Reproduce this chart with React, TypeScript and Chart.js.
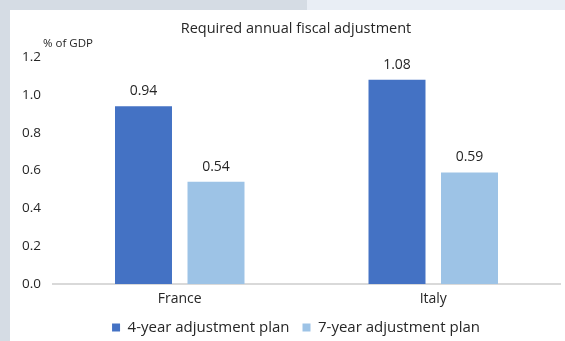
import React, { useEffect, useRef } from "react";
import { Chart, registerables } from "chart.js";

Chart.register(...registerables);

const categories = ["France", "Italy"];
const fourYearPlan = [0.94, 1.08];
const sevenYearPlan = [0.54, 0.59];
const seriesNames = ["4-year adjustment plan", "7-year adjustment plan"];
const yTicks = [0.0, 0.2, 0.4, 0.6, 0.8, 1.0, 1.2];
const titleText = "Required annual fiscal adjustment";
const unitText = "% of GDP";

const FONT = "'Open Sans', sans-serif";
const TEXT = "#262626";

const valueLabels = {
  id: "valueLabels",
  afterDatasetsDraw(chart: any) {
    const ctx = chart.ctx;
    ctx.save();
    ctx.font = `14px ${FONT}`;
    ctx.fillStyle = TEXT;
    ctx.textAlign = "center";
    ctx.textBaseline = "middle";
    chart.data.datasets.forEach((ds: any, i: number) => {
      const meta = chart.getDatasetMeta(i);
      meta.data.forEach((el: any, j: number) => {
        ctx.fillText(Number(ds.data[j]).toFixed(2), el.x, el.y - 15);
      });
    });
    ctx.restore();
  },
};

const unitLabel = {
  id: "unitLabel",
  afterDraw(chart: any) {
    const ctx = chart.ctx;
    const a = chart.chartArea;
    ctx.save();
    ctx.font = `11.5px ${FONT}`;
    ctx.fillStyle = TEXT;
    ctx.textAlign = "left";
    ctx.textBaseline = "middle";
    ctx.fillText(unitText, a.left - 10, a.top - 13);
    ctx.restore();
  },
};

export default function App() {
  const ref = useRef<HTMLCanvasElement | null>(null);
  useEffect(() => {
    if (!ref.current) return;
    const chart = new Chart(ref.current, {
      type: "bar",
      data: {
        labels: categories,
        datasets: [
          {
            label: seriesNames[0],
            data: fourYearPlan,
            backgroundColor: "#4472C4",
            categoryPercentage: 0.572,
            barPercentage: 0.786,
          },
          {
            label: seriesNames[1],
            data: sevenYearPlan,
            backgroundColor: "#9DC3E6",
            categoryPercentage: 0.572,
            barPercentage: 0.786,
          },
        ],
      },
      options: {
        responsive: false,
        animation: false,
        devicePixelRatio: 1,
        layout: { padding: 0 },
        plugins: {
          title: {
            display: true,
            text: titleText,
            color: TEXT,
            font: { family: FONT, size: 14.5, weight: "normal" },
            padding: { top: 10.3, bottom: 19.3 },
          },
          legend: {
            position: "bottom",
            labels: {
              boxWidth: 8,
              boxHeight: 8,
              padding: 13,
              color: TEXT,
              font: { family: FONT, size: 15 },
            },
          },
          tooltip: { enabled: false },
        },
        scales: {
          x: {
            grid: { display: false, drawTicks: false },
            border: { display: true, color: "#d9d9d9", width: 2 },
            ticks: { color: TEXT, font: { family: FONT, size: 14 }, padding: 7 },
            afterFit: (s: any) => {
              s.height = 23;
            },
          },
          y: {
            min: 0,
            max: 1.2,
            grid: { display: false, drawTicks: false },
            border: { display: false },
            afterFit: (s: any) => {
              s.width = 43;
            },
            afterBuildTicks: (s: any) => {
              s.ticks = yTicks.map((v) => ({ value: v }));
            },
            ticks: {
              color: TEXT,
              padding: 12,
              font: { family: FONT, size: 13.5 },
              callback: (v: any) => Number(v).toFixed(1),
            },
          },
          y2: {
            type: "linear",
            position: "right",
            display: true,
            grid: { display: false, drawTicks: false },
            border: { display: false },
            ticks: { display: false },
            afterFit: (s: any) => {
              s.width = 22;
            },
          },
        },
      },
      plugins: [valueLabels, unitLabel],
    });
    return () => chart.destroy();
  }, []);

  return (
    <div style={{ position: "fixed", left: 0, top: 0, width: 565, height: 341, background: "#ffffff", overflow: "hidden" }}>
      <canvas ref={ref} width={572} height={335} style={{ position: "absolute", left: 10, top: 10, width: 572, height: 335 }} />
      <div style={{ position: "absolute", left: 0, top: 0, width: 10, height: 341, background: "#d5dce4" }} />
      <div style={{ position: "absolute", left: 0, top: 0, width: 307, height: 10, background: "#d5dce4" }} />
      <div style={{ position: "absolute", left: 307, top: 0, width: 258, height: 10, background: "#e9eef5" }} />
    </div>
  );
}
